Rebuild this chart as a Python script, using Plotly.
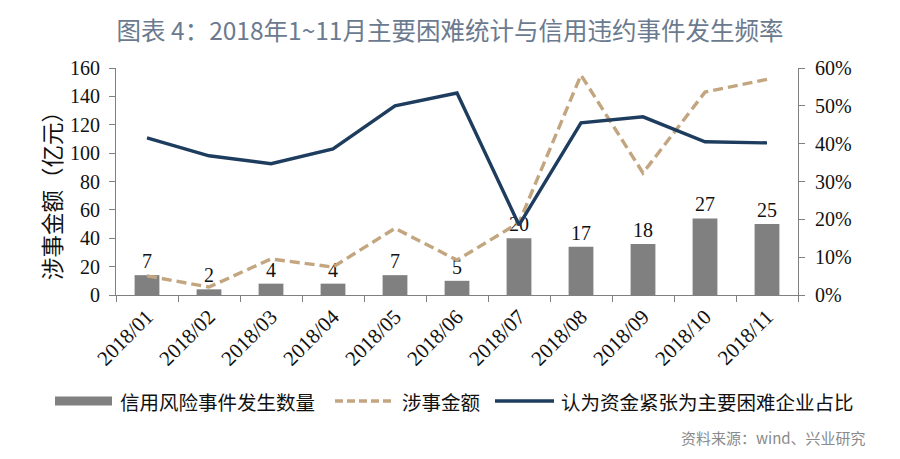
import plotly.graph_objects as go

months = ["2018/01", "2018/02", "2018/03", "2018/04", "2018/05", "2018/06",
          "2018/07", "2018/08", "2018/09", "2018/10", "2018/11"]
event_counts = [7, 2, 4, 4, 7, 5, 20, 17, 18, 27, 25]
amounts = [13.5, 5.6, 25.4, 19.7, 47, 24.6, 51, 155, 86, 143, 152]
fund_tight_share = [0.415, 0.368, 0.347, 0.386, 0.50, 0.534, 0.185, 0.455, 0.471, 0.405, 0.402]

names = ["信用风险事件发生数量", "涉事金额", "认为资金紧张为主要困难企业占比"]

SERIF = "Liberation Serif, Times New Roman, serif"
CJK = "Noto Sans CJK SC, sans-serif"
AXIS_COLOR = "#808080"
BAR_COLOR = "#808080"
DASH_COLOR = "#C3A57F"
LINE_COLOR = "#1E3D5E"

W, H = 900, 459
OFF = 8  # page body margin offset
# target plot area in screenshot pixels: x 116..798, y 68..295
ML = 116 - OFF
MT = 68 - OFF
PLOT_W = 798 - 116
PLOT_H = 295 - 68
MR = W - ML - PLOT_W
MB = H - MT - PLOT_H


def px(x):
    """screenshot x pixel -> paper x"""
    return (x - OFF - ML) / PLOT_W


def py(y):
    """screenshot y pixel -> paper y"""
    return (MT + PLOT_H - (y - OFF)) / PLOT_H


fig = go.Figure()

fig.add_trace(go.Bar(
    x=months, y=event_counts, name=names[0],
    marker=dict(color=BAR_COLOR, line=dict(width=0)),
    width=0.4,
    text=[str(v) for v in event_counts], textposition="outside",
    textfont=dict(family=SERIF, size=20, color="#111111"),
    cliponaxis=False, showlegend=False,
    yaxis="y",
))

fig.add_trace(go.Scatter(
    x=months, y=amounts, name=names[1], mode="lines",
    line=dict(color=DASH_COLOR, width=3.4, dash="10px,5px"),
    showlegend=False,
    yaxis="y2",
))

fig.add_trace(go.Scatter(
    x=months, y=fund_tight_share, name=names[2], mode="lines",
    line=dict(color=LINE_COLOR, width=3.4),
    showlegend=False,
    yaxis="y3",
))

# manual legend (symbols + labels), positioned in pixel space
LEG_Y = 401
shapes = [
    dict(type="rect", xref="paper", yref="paper",
         x0=px(55), x1=px(112), y0=py(LEG_Y + 4.5), y1=py(LEG_Y - 4.5),
         fillcolor=BAR_COLOR, line=dict(width=0)),
    dict(type="line", xref="paper", yref="paper",
         x0=px(335), x1=px(394), y0=py(LEG_Y), y1=py(LEG_Y),
         line=dict(color=DASH_COLOR, width=3.5, dash="8px,4px")),
    dict(type="line", xref="paper", yref="paper",
         x0=px(495), x1=px(554), y0=py(LEG_Y), y1=py(LEG_Y),
         line=dict(color=LINE_COLOR, width=3.5)),
]
leg_text_x = [118, 400, 559]
annotations = [
    dict(text=t, xref="paper", yref="paper", x=px(xx), y=py(LEG_Y),
         xanchor="left", yanchor="middle", showarrow=False,
         font=dict(family=CJK, size=19.5, color="#111111"))
    for t, xx in zip(names, leg_text_x)
]

annotations.append(dict(
    text="资料来源：wind、兴业研究",
    xref="paper", yref="paper", x=px(868), y=py(437),
    xanchor="right", yanchor="middle", showarrow=False,
    font=dict(family=CJK, size=15, color="#8A8A8A"),
))

annotations.append(dict(
    text="涉事金额（亿元）",
    xref="paper", yref="paper", x=px(51), y=py(190),
    xanchor="center", yanchor="middle", showarrow=False, textangle=-90,
    font=dict(family=CJK, size=22.5, color="#111111"),
))

fig.update_layout(
    width=W, height=H,
    paper_bgcolor="white", plot_bgcolor="white",
    margin=dict(l=ML, r=MR, t=MT, b=MB, autoexpand=False),
    showlegend=False,
    title=dict(
        text="图表 4：2018年1~11月主要困难统计与信用违约事件发生频率",
        font=dict(family=CJK, size=24.5, color="#6B7A8E"),
        x=(450 - OFF) / W, xref="container", xanchor="center",
        y=1 - (31 - OFF) / H, yref="container", yanchor="middle",
    ),
    xaxis=dict(
        type="category", automargin=False,
        showline=True, linecolor=AXIS_COLOR, linewidth=1.2,
        ticks="outside", tickson="boundaries", ticklen=6, tickcolor=AXIS_COLOR,
        tickangle=-45,
        tickfont=dict(family=SERIF, size=21, color="#111111"),
        showgrid=False, zeroline=False,
    ),
    yaxis=dict(
        range=[0, 80], visible=False, showgrid=False, zeroline=False, automargin=False,
    ),
    yaxis2=dict(
        overlaying="y", side="left", anchor="x", automargin=False,
        range=[0, 160], dtick=20,
        showline=True, linecolor=AXIS_COLOR, linewidth=1.2,
        ticks="outside", ticklen=6, tickcolor=AXIS_COLOR, ticklabelstandoff=5,
        tickfont=dict(family=SERIF, size=20, color="#111111"),
        showgrid=False, zeroline=False,
    ),
    yaxis3=dict(
        overlaying="y", side="right", anchor="x", automargin=False,
        range=[0, 0.6], dtick=0.1, tickformat=".0%",
        showline=True, linecolor=AXIS_COLOR, linewidth=1.2,
        ticks="outside", ticklen=6, tickcolor=AXIS_COLOR, ticklabelstandoff=6,
        tickfont=dict(family=SERIF, size=20, color="#111111"),
        showgrid=False, zeroline=False,
    ),
    shapes=shapes,
    annotations=annotations,
)

fig.write_html("out.html")
